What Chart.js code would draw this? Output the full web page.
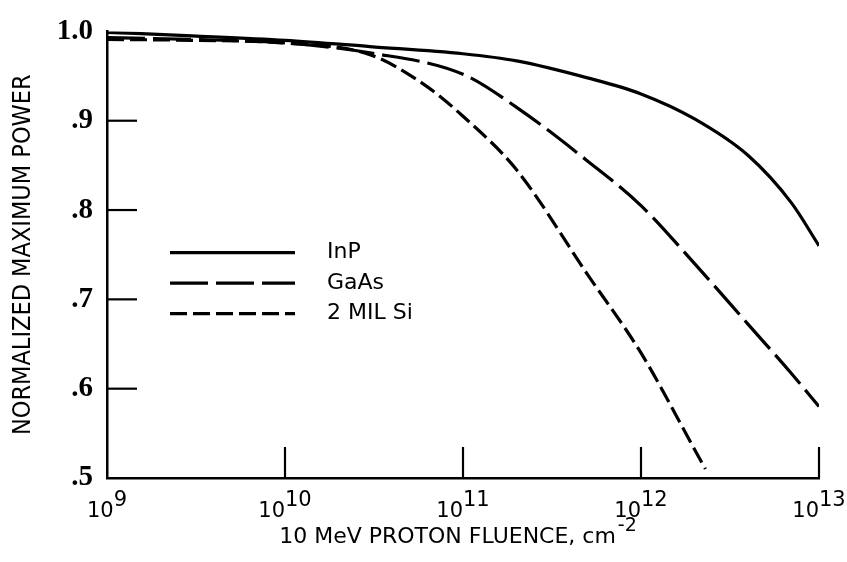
<!DOCTYPE html>
<html>
<head>
<meta charset="utf-8">
<script src="https://cdn.jsdelivr.net/npm/chart.js@4"></script>
<style>
    body { margin: 0; background: #fff; }
</style>
</head>
<body>
<canvas id="chart" width="847" height="562"></canvas>
<script>
// values
const seriesLabels = ["InP", "GaAs", "2 MIL Si"]

const inpFluence = [1e9, 3e9, 1e10, 3e10, 1e11, 2e11, 5e11, 1e12, 2e12, 4e12, 7e12, 1e13]
const inpPower = [0.999, 0.995, 0.990, 0.983, 0.975, 0.967, 0.948, 0.930, 0.902, 0.861, 0.808, 0.760]

const gaasFluence = [1e9, 3e9, 1e10, 3e10, 1e11, 2e11, 5e11, 1e12, 2e12, 4e12, 7e12, 1e13]
const gaasPower = [0.993, 0.991, 0.987, 0.976, 0.952, 0.915, 0.855, 0.805, 0.740, 0.672, 0.617, 0.580]

const siFluence = [1e9, 3e9, 1e10, 3e10, 6e10, 1e11, 2e11, 5e11, 1e12, 2e12, 2.3e12]
const siPower = [0.991, 0.990, 0.987, 0.974, 0.941, 0.905, 0.845, 0.728, 0.640, 0.532, 0.510]

const xTicks = [1e9, 1e10, 1e11, 1e12, 1e13]
const xTickExponents = ["9", "10", "11", "12", "13"]
const yTicks = [0.5, 0.6, 0.7, 0.8, 0.9, 1.0]
const yTickLabels = [".5", ".6", ".7", ".8", ".9", "1.0"]

const xTitle = "10 MeV PROTON FLUENCE, cm"
const xTitleExponent = "-2"
const yTitle = "NORMALIZED MAXIMUM POWER"

const sansFont = "'DejaVu Sans', sans-serif"
const narrowFont = "'DejaVu Sans Condensed', sans-serif"

function toPoints(xs, ys) {
    return xs.map((x, i) => ({x: x, y: ys[i]}))
}

// inward ticks, superscript tick labels, x title and the legend
const axisDecor = {
    id: "axisDecor",
    afterDraw(chart) {
        const ctx = chart.ctx
        const {left, right, bottom} = chart.chartArea
        const xScale = chart.scales.x
        const yScale = chart.scales.y
        ctx.save()
        ctx.strokeStyle = "#000"
        ctx.fillStyle = "#000"
        ctx.lineWidth = 2.2

        yTicks.slice(1, -1).forEach(v => {
            let py = yScale.getPixelForValue(v)
            ctx.beginPath()
            ctx.moveTo(left, py)
            ctx.lineTo(left + 30, py)
            ctx.stroke()
        })
        xTicks.slice(1).forEach(v => {
            let px = xScale.getPixelForValue(v)
            ctx.beginPath()
            ctx.moveTo(px, bottom)
            ctx.lineTo(px, bottom - 31)
            ctx.stroke()
        })

        // 10^n labels
        ctx.textBaseline = "alphabetic"
        ctx.textAlign = "left"
        ctx.font = `21px ${sansFont}`
        xTicks.forEach((v, i) => {
            let px = xScale.getPixelForValue(v)
            let baseW = ctx.measureText("10").width
            let expW = ctx.measureText(xTickExponents[i]).width
            let x0 = px - (baseW + expW) / 2
            ctx.fillText("10", x0, bottom + 39)
            ctx.fillText(xTickExponents[i], x0 + baseW, bottom + 28)
        })

        // x title
        ctx.font = `22px ${sansFont}`
        let titleW = ctx.measureText(xTitle).width
        ctx.font = `19px ${sansFont}`
        let supW = ctx.measureText(xTitleExponent).width
        let tx = (left + right) / 2 - 6 - (titleW + supW) / 2
        ctx.font = `22px ${sansFont}`
        ctx.fillText(xTitle, tx, bottom + 65)
        ctx.font = `19px ${sansFont}`
        ctx.fillText(xTitleExponent, tx + titleW + 2, bottom + 53)

        // legend
        chart.data.datasets.forEach((ds, i) => {
            let ly = yScale.getPixelForValue(0.75) + i * 30.5 - 2
            ctx.lineWidth = ds.borderWidth
            ctx.setLineDash(ds.borderDash)
            ctx.beginPath()
            ctx.moveTo(left + 63, ly)
            ctx.lineTo(left + 188, ly)
            ctx.stroke()
            ctx.setLineDash([])
            ctx.font = `22px ${sansFont}`
            ctx.textBaseline = "middle"
            ctx.fillText(ds.label, left + 220, ly)
        })
        ctx.restore()
    }
}

const lineStyle = {
    borderColor: "#000",
    borderWidth: 3.2,
    pointRadius: 0,
    fill: false,
    cubicInterpolationMode: "monotone",
}

new Chart(document.getElementById("chart").getContext("2d"), {
    type: "line",
    data: {
        datasets: [
            {...lineStyle, label: seriesLabels[0], data: toPoints(inpFluence, inpPower), borderDash: []},
            {...lineStyle, label: seriesLabels[1], data: toPoints(gaasFluence, gaasPower), borderDash: [38, 8]},
            {...lineStyle, label: seriesLabels[2], data: toPoints(siFluence, siPower), borderDash: [17, 6]},
        ]
    },
    options: {
        responsive: false,
        animation: false,
        layout: {padding: {top: 23, right: 28, left: 0, bottom: 0}},
        plugins: {
            legend: {display: false},
            tooltip: {enabled: false},
        },
        scales: {
            x: {
                type: "logarithmic",
                min: 1e9,
                max: 1e13,
                afterBuildTicks: s => { s.ticks = xTicks.map(v => ({value: v})) },
                afterFit: s => { s.height = 84 },
                ticks: {display: false},
                grid: {display: false, drawTicks: false},
                border: {display: true, color: "#000", width: 2.5},
            },
            y: {
                min: 0.5,
                max: 1.0,
                afterBuildTicks: s => { s.ticks = yTicks.map(v => ({value: v})) },
                afterFit: s => { s.width = 107 },
                ticks: {
                    callback: (v, i) => yTickLabels[i],
                    color: "#000",
                    padding: 14,
                    font: {family: "'Liberation Serif', serif", size: 29, weight: "bold"},
                },
                grid: {display: false, drawTicks: false},
                border: {display: true, color: "#000", width: 2.5},
                title: {
                    display: true,
                    text: yTitle,
                    color: "#000",
                    font: {family: narrowFont, size: 25},
                    padding: {top: 8, bottom: 0},
                },
            },
        },
    },
    plugins: [axisDecor],
})
</script>
</body>
</html>
